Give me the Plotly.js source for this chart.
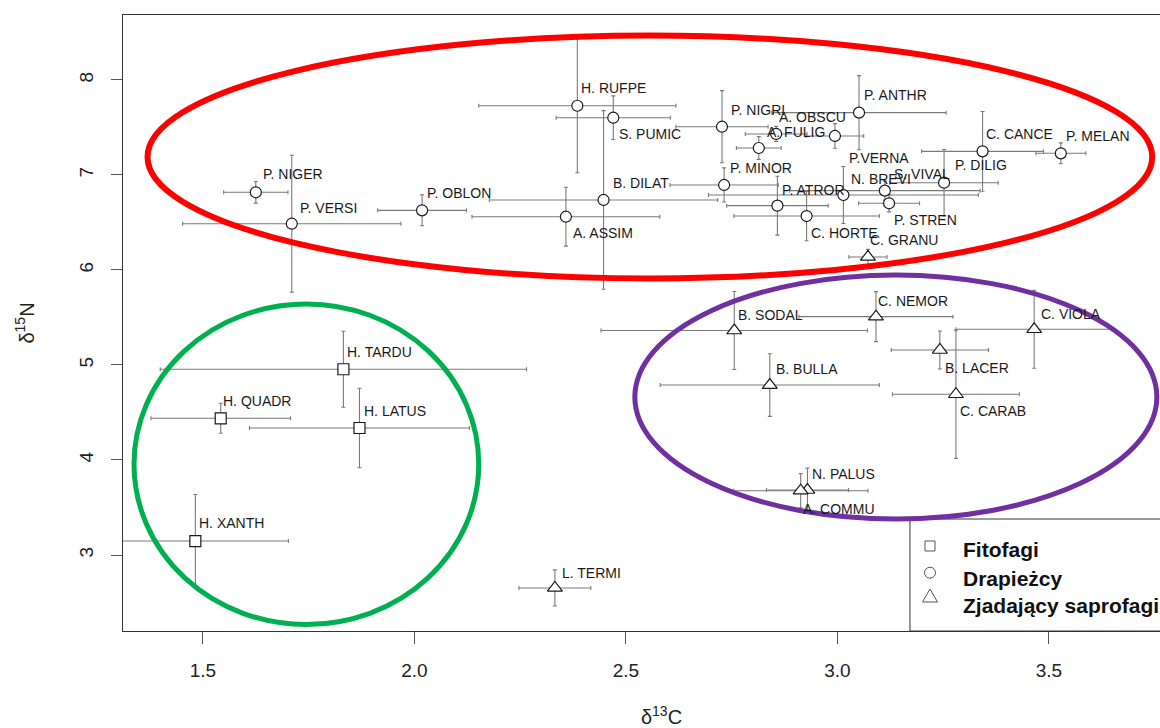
<!DOCTYPE html>
<html><head><meta charset="utf-8">
<script src="https://cdn.plot.ly/plotly-3.0.1.min.js"></script>
<style>html,body{margin:0;padding:0;overflow:hidden;background:#fff}#chart{width:1200px;height:728px}</style>
</head><body><div id="chart"></div>
<script>
// ---------- data (δ13C, δ15N, ± errors) ----------
const fitofagiNames = ["H. TARDU","H. QUADR","H. LATUS","H. XANTH"];
const fitofagiC13 = [1.832,1.542,1.870,1.482];
const fitofagiN15 = [4.955,4.439,4.337,3.147];
const fitofagiC13Err = [0.433,0.165,0.260,0.220];
const fitofagiN15Err = [0.400,0.158,0.418,0.490];

const drapNames = ["H. RUFPE","S. PUMIC","P. NIGRI","A. OBSCU","A. FULIG","P.VERNA","P. ANTHR","C. CANCE","P. MELAN","P. DILIG","S. VIVAL","N. BREVI","P. STREN","P. MINOR","P. ATROR","C. HORTE","B. DILAT","A. ASSIM","P. OBLON","P. NIGER","P. VERSI"];
const drapC13 = [2.385,2.470,2.727,2.855,2.814,2.994,3.051,3.343,3.528,3.252,3.112,3.014,3.122,2.732,2.858,2.927,2.447,2.358,2.018,1.625,1.710];
const drapN15 = [7.729,7.603,7.508,7.432,7.284,7.411,7.656,7.249,7.228,6.919,6.835,6.789,6.702,6.895,6.677,6.568,6.737,6.561,6.628,6.818,6.487];
const drapC13Err = [0.233,0.135,0.109,0.073,0.053,0.068,0.206,0.144,0.059,0.128,0.225,0.319,0.072,0.128,0.120,0.172,0.270,0.222,0.105,0.076,0.258];
const drapN15Err = [0.705,0.230,0.380,0.080,0.120,0.130,0.390,0.420,0.110,0.350,0.100,0.300,0.090,0.180,0.310,0.260,0.940,0.310,0.163,0.114,0.720];

const saproNames = ["C. GRANU","B. SODAL","C. NEMOR","C. VIOLA","B. LACER","B. BULLA","C. CARAB","N. PALUS","A. COMMU","L. TERMI"];
const saproC13 = [3.072,2.756,3.091,3.465,3.242,2.840,3.280,2.929,2.913,2.332];
const saproN15 = [6.137,5.363,5.509,5.376,5.158,4.789,4.692,3.684,3.677,2.653];
const saproC13Err = [0.045,0.315,0.182,0.185,0.115,0.259,0.150,0.097,0.159,0.085];
const saproN15Err = [0.080,0.410,0.263,0.410,0.200,0.330,0.675,0.230,0.180,0.190];

const groupNames = ["Fitofagi","Drapieżcy","Zjadający saprofagi"];
const xTickVals = [1.5,2.0,2.5,3.0,3.5];
const xTickText = ["1.5","2.0","2.5","3.0","3.5"];
const yTickVals = [3,4,5,6,7,8];
const yTickText = ["3","4","5","6","7","8"];

// ---------- label placement (pixel offsets from point, right/down) ----------
const labelOffset = {
 "H. TARDU":[2,-17],"H. QUADR":[0,-17],"H. LATUS":[3,-17],"H. XANTH":[2,-18],
 "H. RUFPE":[2,-18],"S. PUMIC":[4,16],"P. NIGRI":[7,-17],"A. OBSCU":[1,-17],"A. FULIG":[6,-16],
 "P.VERNA":[12,22],"P. ANTHR":[3,-18],"C. CANCE":[1,-17],"P. MELAN":[3,-17],"P. DILIG":[9,-18],
 "S. VIVAL":[7,-17],"N. BREVI":[6,-16],"P. STREN":[3,17],"P. MINOR":[4,-17],"P. ATROR":[3,-16],
 "C. HORTE":[2,17],"B. DILAT":[7,-17],"A. ASSIM":[5,16],"P. OBLON":[3,-17],"P. NIGER":[5,-18],
 "P. VERSI":[6,-16],"C. GRANU":[0,-17],"B. SODAL":[2,-16],"C. NEMOR":[0,-16],"C. VIOLA":[5,-15],
 "B. LACER":[3,18],"B. BULLA":[4,-16],"C. CARAB":[2,17],"N. PALUS":[3,-16],"A. COMMU":[0,18],
 "L. TERMI":[5,-15]
};

const FONT = "Liberation Sans, Arial, Helvetica, sans-serif";
const errStyle = (arr) => ({type:'data', array:arr, visible:true, color:'#7a7a7a', thickness:1.1, width:2});

function mkTrace(name, xs, ys, xe, ye, symbol, size){
  return {
    type:'scatter', mode:'markers', name:name, showlegend:false,
    x:xs, y:ys,
    error_x: errStyle(xe), error_y: errStyle(ye),
    marker:{symbol:symbol, size:size, color:'#ffffff', line:{color:'#1a1a1a', width:1.2}},
    hoverinfo:'skip'
  };
}

const traces = [
  mkTrace(groupNames[0], fitofagiC13, fitofagiN15, fitofagiC13Err, fitofagiN15Err, 'square', 11),
  mkTrace(groupNames[1], drapC13, drapN15, drapC13Err, drapN15Err, 'circle', 11),
  mkTrace(groupNames[2], saproC13, saproN15, saproC13Err, saproN15Err, 'triangle-up', 13)
];

const annotations = [];
function addLabels(names, xs, ys){
  names.forEach((n,i)=>{
    const o = labelOffset[n] || [3,-17];
    annotations.push({x:xs[i], y:ys[i], xref:'x', yref:'y', text:n, showarrow:false,
      xanchor:'left', yanchor:'middle', xshift:o[0], yshift:-o[1],
      font:{family:FONT, size:14, color:'#1a1a1a'}});
  });
}
addLabels(fitofagiNames, fitofagiC13, fitofagiN15);
addLabels(drapNames, drapC13, drapN15);
addLabels(saproNames, saproC13, saproN15);

// ---------- legend box (drawn as in the original R figure, partly off the right edge) ----------
const legSymX = 0.7493, legTextX = 0.7781;
const legRowsSym = [0.138, 0.0946, 0.0552];
const legRowsText = [0.1315, 0.0856, 0.0422];
groupNames.forEach((g,i)=>{
  annotations.push({x:legTextX, y:legRowsText[i], xref:'paper', yref:'paper', text:'<b>'+g+'</b>',
    showarrow:false, xanchor:'left', yanchor:'middle', font:{family:FONT, size:21, color:'#111'}});
});

const legendSymbolLine = {color:'#555', width:1};
const shapes = [
  {type:'rect', xref:'paper', yref:'paper', x0:0.7307, x1:1.2, y0:0, y1:0.1818,
   fillcolor:'#ffffff', line:{color:'#333', width:1}, layer:'above'},
  {type:'rect', xref:'paper', yref:'paper', xsizemode:'pixel', ysizemode:'pixel',
   xanchor:legSymX, yanchor:legRowsSym[0], x0:-5, x1:5, y0:-5, y1:5, line:legendSymbolLine, layer:'above'},
  {type:'circle', xref:'paper', yref:'paper', xsizemode:'pixel', ysizemode:'pixel',
   xanchor:legSymX, yanchor:legRowsSym[1], x0:-5.5, x1:5.5, y0:-5.5, y1:5.5, line:legendSymbolLine, layer:'above'},
  {type:'path', xref:'paper', yref:'paper', xsizemode:'pixel', ysizemode:'pixel',
   xanchor:legSymX, yanchor:legRowsSym[2], path:'M -7.5,-5 L 7.5,-5 L 0,8 Z', line:legendSymbolLine, layer:'above'},
  {type:'circle', xref:'x', yref:'y', x0:1.369, x1:3.744, y0:5.911, y1:8.468, line:{color:'#ff0000', width:6}, layer:'above'},
  {type:'circle', xref:'x', yref:'y', x0:1.337, x1:2.152, y0:2.268, y1:5.642, line:{color:'#00b050', width:5}, layer:'above'},
  {type:'circle', xref:'x', yref:'y', x0:2.521, x1:3.755, y0:3.379, y1:5.947, line:{color:'#7030a0', width:5}, layer:'above'}
];

const layout = {
  width:1200, height:728,
  margin:{l:123, r:0, t:15, b:97},
  paper_bgcolor:'#ffffff', plot_bgcolor:'#ffffff',
  font:{family:FONT, color:'#1a1a1a'},
  showlegend:false,
  xaxis:{range:[1.311,3.857], tickvals:xTickVals, ticktext:xTickText, showgrid:false, zeroline:false,
    showline:true, mirror:true, linecolor:'#333', linewidth:1,
    ticks:'outside', ticklen:12, tickcolor:'#555', ticklabelstandoff:10,
    tickfont:{family:FONT, size:19, color:'#222'},
    title:{text:'δ<sup>13</sup>C', font:{family:FONT, size:20, color:'#222'}, standoff:32}},
  yaxis:{range:[2.2,8.684], tickvals:yTickVals, ticktext:yTickText, showgrid:false, zeroline:false,
    showline:true, mirror:true, linecolor:'#333', linewidth:1,
    ticks:'outside', ticklen:11, tickcolor:'#555', tickangle:-90, ticklabelstandoff:10,
    tickfont:{family:FONT, size:19, color:'#222'},
    title:{text:'δ<sup>15</sup>N', font:{family:FONT, size:20, color:'#222'}, standoff:36}},
  annotations:annotations,
  shapes:shapes
};

Plotly.newPlot('chart', traces, layout, {staticPlot:true, displayModeBar:false});
</script>
</body></html>
